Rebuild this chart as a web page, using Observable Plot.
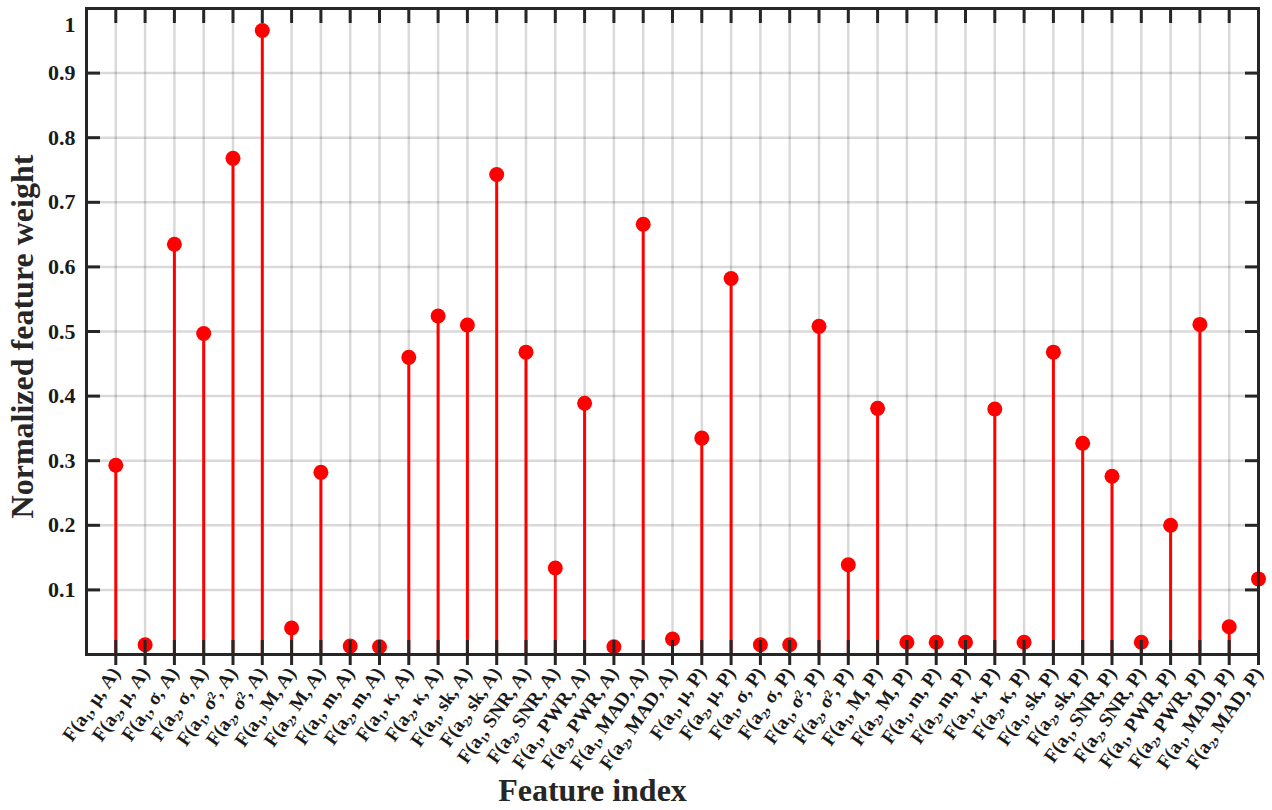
<!DOCTYPE html>
<html>
<head>
<meta charset="utf-8">
<script src="https://cdn.jsdelivr.net/npm/d3@7"></script>
<script src="https://cdn.jsdelivr.net/npm/@observablehq/plot@0.6"></script>
<style>
  html, body { margin: 0; padding: 0; background: #fff; }
  svg text { font-family: "Liberation Serif", "Times New Roman", serif; font-weight: bold; }
</style>
</head>
<body>
<div id="chart"></div>
<script>
const features = [
  "F(a₁, μ, A)", "F(a₂, μ, A)", "F(a₁, σ, A)", "F(a₂, σ, A)", "F(a₁, σ², A)",
  "F(a₂, σ², A)", "F(a₁, M, A)", "F(a₂, M, A)", "F(a₁, m, A)", "F(a₂, m, A)",
  "F(a₁, κ, A)", "F(a₂, κ, A)", "F(a₁, sk, A)", "F(a₂, sk, A)", "F(a₁, SNR, A)",
  "F(a₂, SNR, A)", "F(a₁, PWR, A)", "F(a₂, PWR, A)", "F(a₁, MAD, A)", "F(a₂, MAD, A)",
  "F(a₁, μ, P)", "F(a₂, μ, P)", "F(a₁, σ, P)", "F(a₂, σ, P)", "F(a₁, σ², P)",
  "F(a₂, σ², P)", "F(a₁, M, P)", "F(a₂, M, P)", "F(a₁, m, P)", "F(a₂, m, P)",
  "F(a₁, κ, P)", "F(a₂, κ, P)", "F(a₁, sk, P)", "F(a₂, sk, P)", "F(a₁, SNR, P)",
  "F(a₂, SNR, P)", "F(a₁, PWR, P)", "F(a₂, PWR, P)", "F(a₁, MAD, P)", "F(a₂, MAD, P)"
];
const weights = [
  0.293, 0.015, 0.635, 0.497, 0.768, 0.966, 0.041, 0.282, 0.013, 0.012,
  0.460, 0.524, 0.510, 0.743, 0.468, 0.134, 0.389, 0.012, 0.666, 0.024,
  0.335, 0.582, 0.015, 0.015, 0.508, 0.139, 0.381, 0.019, 0.019, 0.019,
  0.380, 0.019, 0.468, 0.327, 0.276, 0.019, 0.200, 0.511, 0.043, 0.117
];
const yTicks = [0.1, 0.2, 0.3, 0.4, 0.5, 0.6, 0.7, 0.8, 0.9];
const xLabel = "Feature index";
const yLabel = "Normalized feature weight";

const data = features.map((f, i) => ({idx: i + 1, label: f, w: weights[i]}));
const xTicks = data.map(d => d.idx);
const dark = "#262626";

const chart = Plot.plot({
  width: 1272,
  height: 810,
  marginLeft: 86,
  marginRight: 14,
  marginTop: 8,
  marginBottom: 156,
  style: {fontFamily: "'Liberation Serif', 'Times New Roman', serif", background: "#fff"},
  x: {type: "linear", domain: [0, features.length]},
  y: {domain: [0, 1]},
  marks: [
    Plot.gridX(xTicks, {stroke: "#000", strokeOpacity: 0.15, strokeWidth: 2.5}),
    Plot.gridY(yTicks, {stroke: "#000", strokeOpacity: 0.15, strokeWidth: 2.5}),
    Plot.ruleX(data, {x: "idx", y1: 0, y2: "w", stroke: "#ff0000", strokeWidth: 3}),
    Plot.dot(data, {x: "idx", y: "w", r: 7.5, fill: "#ff0000", stroke: "none"}),
    // bottom ticks (inside + outside)
    Plot.axisX(xTicks, {anchor: "bottom", tickSize: 25, dy: -14, text: null, stroke: dark, strokeWidth: 3, label: null}),
    // bottom tick labels
    Plot.axisX(xTicks, {anchor: "bottom", tickSize: 0, tickPadding: 15, tickRotate: -55,
      tickFormat: d => features[d - 1], fontSize: 19.5, fontWeight: "bold", fill: "#1a1a1a", label: null}),
    // top ticks (inside)
    Plot.axisX(xTicks, {anchor: "top", tickSize: 14, dy: 14, text: null, stroke: dark, strokeWidth: 3, label: null}),
    // left ticks (inside) and labels
    Plot.axisY(yTicks, {anchor: "left", tickSize: 14, dx: 14, text: null, stroke: dark, strokeWidth: 3, label: null}),
    Plot.axisY(yTicks, {anchor: "left", tickSize: 0, tickPadding: 11, tickFormat: d => String(d),
      fontSize: 22, fontWeight: "bold", fill: "#1a1a1a", label: null}),
    Plot.text([1], {y: d => d, text: d => String(d), frameAnchor: "left", textAnchor: "end", dx: -11, dy: 16,
      fontSize: 22, fontWeight: "bold", fill: "#1a1a1a"}),
    // right ticks (inside)
    Plot.axisY(yTicks, {anchor: "right", tickSize: 14, dx: -14, text: null, stroke: dark, strokeWidth: 3, label: null}),
    Plot.frame({stroke: dark, strokeWidth: 3}),
    Plot.text([xLabel], {frameAnchor: "bottom", text: d => d, dy: 146, dx: -80, fontSize: 32, fontWeight: "bold", fill: "#262626"}),
    Plot.text([yLabel], {frameAnchor: "left", textAnchor: "middle", text: d => d, rotate: -90, dx: -64, dy: 5,
      fontSize: 32, fontWeight: "bold", fill: "#262626"})
  ]
});
document.getElementById("chart").appendChild(chart);
</script>
</body>
</html>
